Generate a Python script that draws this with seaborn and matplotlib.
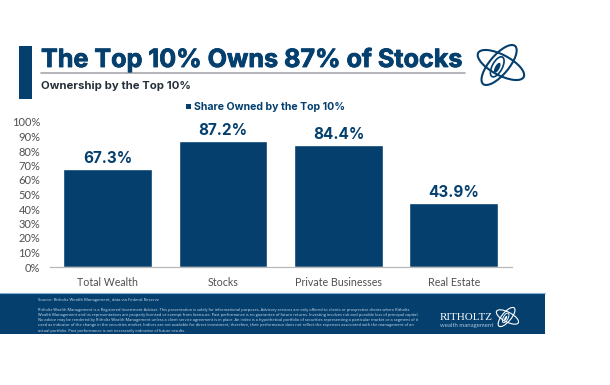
import matplotlib
matplotlib.use("Agg")
import matplotlib.pyplot as plt
import matplotlib.patheffects as pe
from matplotlib.patches import Ellipse, Rectangle
import pandas as pd
import seaborn as sns

categories = ["Total Wealth", "Stocks", "Private Businesses", "Real Estate"]
shares = [67.3, 87.2, 84.4, 43.9]
y_ticks = [0, 10, 20, 30, 40, 50, 60, 70, 80, 90, 100]

title = "The Top 10% Owns 87% of Stocks"
subtitle = "Ownership by the Top 10%"
legend_label = "Share Owned by the Top 10%"
source = "Source: Ritholtz Wealth Management, data via Federal Reserve"
disclaimer = [
    "Ritholtz Wealth Management is a Registered Investment Adviser. This presentation is solely for informational purposes. Advisory services are only offered to clients or prospective clients where Ritholtz",
    "Wealth Management and its representatives are properly licensed or exempt from licensure. Past performance is no guarantee of future returns. Investing involves risk and possible loss of principal capital.",
    "No advice may be rendered by Ritholtz Wealth Management unless a client service agreement is in place. An index is a hypothetical portfolio of securities representing a particular market or a segment of it",
    "used as indicator of the change in the securities market. Indices are not available for direct investment; therefore, their performance does not reflect the expenses associated with the management of an",
    "actual portfolio. Past performance is not necessarily indicative of future results.",
]

NAVY = "#043f6e"
W, H = 610, 385

sns.set_theme(style="white")
plt.rcParams["font.family"] = ["Lato", "DejaVu Sans"]

df = pd.DataFrame({"category": categories, "share": shares})

fig = plt.figure(figsize=(W / 100, H / 100), dpi=100, facecolor="white")
ax = fig.add_axes([50 / W, 1 - 267 / H, 461.5 / W, 145 / H])

sns.barplot(data=df, x="category", y="share", color=NAVY, saturation=1, width=0.77, ax=ax)
ax.set_xlim(-0.5, 3.5)
ax.set_ylim(0, 100)
ax.set_yticks(y_ticks)
ax.set_yticklabels([f"{t}%" for t in y_ticks], fontsize=8.0, color="#505050")
ax.set_xlabel("")
ax.set_ylabel("")
ax.tick_params(axis="x", labelsize=7.7, labelcolor="#505050", length=0, pad=7.5)
ax.tick_params(axis="y", length=0, pad=7)
sns.despine(ax=ax, left=True)
ax.spines["bottom"].set_color("#b8b8b8")
ax.spines["bottom"].set_linewidth(0.9)

for bar, value in zip(ax.patches, shares):
    ax.annotate(f"{value}%", (bar.get_x() + bar.get_width() / 2, value),
                xytext=(0, 4.3), textcoords="offset points", ha="center", va="baseline",
                fontsize=11, fontweight="bold", color=NAVY, family="Inter")


def draw_logo(target, cx, cy, scale, colour, lw):
    # two crossed rings with a small rocket in the middle
    for dx, dy, w, h, ang in [(-1, 0, 54, 21, -50), (1, -0, 56, 22, 28)]:
        target.add_patch(Ellipse((cx + dx * scale, cy + dy * scale), w * scale, h * scale,
                                 angle=ang, fill=False, ec=colour, lw=lw))
    target.add_patch(Ellipse((cx - 3 * scale, cy + 2 * scale), 24 * scale, 11 * scale,
                             angle=-62, fill=False, ec=colour, lw=lw * 0.8))
    target.add_patch(Ellipse((cx - 3 * scale, cy + 3 * scale), 12 * scale, 5 * scale,
                             angle=-62, color=colour, lw=0))


# overlay in pixel coordinates for the slide furniture
over = fig.add_axes([0, 0, 1, 1], zorder=-1)
over.set_xlim(0, W)
over.set_ylim(H, 0)
over.axis("off")
ax.patch.set_alpha(0)

over.add_patch(Rectangle((18.5, 46), 13.5, 53, color=NAVY, lw=0))
over.plot([41, 465], [73, 73], color="#a6a8ab", lw=1.2)
over.text(41, 67, title, fontsize=18.1, fontweight="bold", color=NAVY, family="Inter", va="baseline",
          path_effects=[pe.withStroke(linewidth=0.6, foreground=NAVY)])
over.text(41, 89, subtitle, fontsize=8.2, fontweight="bold", color="#26303a", family="Inter", va="baseline")
over.add_patch(Rectangle((185.5, 104), 5, 5, color=NAVY, lw=0))
over.text(194, 110, legend_label, fontsize=7.6, fontweight="bold", color=NAVY, family="Inter", va="baseline")

draw_logo(over, 500, 65, 0.92, NAVY, 1.5)

# footer band
over.add_patch(Rectangle((0, 293), 545, 40.5, color=NAVY, lw=0))
over.plot([0, 545], [293, 293], color="#7fb2d6", lw=0.8)
over.text(38.5, 300.5, source, fontsize=3.0, color="#cfe0ee", family="Open Sans", va="baseline")
for i, line in enumerate(disclaimer):
    over.text(38.5, 310.5 + i * 5.3, line, fontsize=2.92, color="#cfe0ee", family="Open Sans", va="baseline")
over.text(439.5, 319.5, "RITHOLTZ", fontsize=7.9, color="white", family="Liberation Serif", va="baseline")
over.text(439.5, 326.5, "wealth management", fontsize=4.3, color="#a9c6de", va="baseline")
draw_logo(over, 507, 317, 0.44, "white", 0.8)

fig.savefig("out.png", dpi=100, facecolor="white")
